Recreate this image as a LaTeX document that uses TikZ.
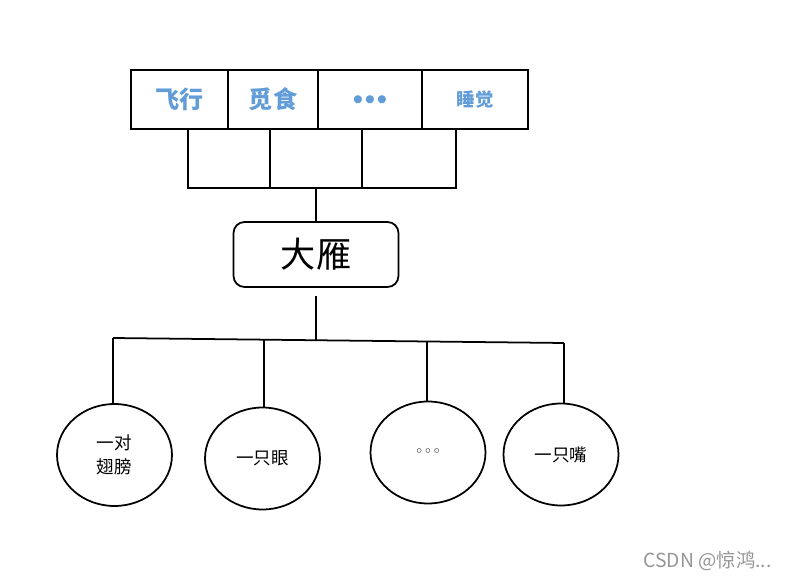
\documentclass[tikz,border=0pt]{standalone}
\usepackage{fontspec}
\setmainfont{Noto Sans CJK SC}
\newfontfamily\symfont{DejaVu Sans}
\usetikzlibrary{shapes.geometric, positioning}
\definecolor{actblue}{RGB}{98,157,216}
\definecolor{markgray}{RGB}{150,150,150}
\tikzset{
  cell/.style={rectangle, draw, line width=1pt, minimum height=1.18cm,
               inner sep=0pt, text=actblue,
               font=\bfseries\fontsize{13.7}{16}\selectfont},
  bird/.style={rectangle, draw, line width=1pt, rounded corners=0.22cm,
               minimum width=3.3cm, minimum height=1.3cm, inner sep=0pt,
               font=\fontsize{20}{24}\selectfont},
  part/.style={ellipse, draw, line width=1pt, minimum width=2.3cm,
               minimum height=2.04cm, inner sep=0pt, align=center,
               font=\fontsize{10}{14}\selectfont},
  link/.style={line width=1pt},
}

\begin{document}
\begin{tikzpicture}[x=0.02cm, y=-0.02cm]
  \useasboundingbox (0,0) rectangle (787,580);

  % what the goose does
  \node[cell, minimum width=1.94cm] (fly)    at (179.5,99.5) {飞行};
  \node[cell, minimum width=1.8cm]  (forage) at (273,99.5)   {觅食};
  \node[cell, minimum width=2.08cm, font=\symfont\fontsize{6}{7}\selectfont]
    (more) at (370,99.5) {●\kern1.6pt●\kern1.6pt●};
  \node[cell, minimum width=2.12cm, font=\bfseries\fontsize{10.5}{12}\selectfont]
    (sleep) at (475,99.5) {睡觉};

  \node[bird] (goose) at (316,254.5) {大雁};

  % what the goose has
  \node[part] (wings) at (114.5,455)   {一对\\翅膀};
  \node[part] (eye)   at (262.5,458.5) {一只眼};
  \node[part, font=\symfont\fontsize{8.5}{9}\selectfont] (etc) at (428,452.5) {◦◦◦};
  \node[part] (beak)  at (561,454.5)   {一只嘴};

  \node[text=markgray, font=\fontsize{11}{13}\selectfont] (mark) at (707.5,561)
    {CSDN @惊鸿...};

  \coordinate (t1) at (188,188);
  \coordinate (t2) at (270,188);
  \coordinate (t3) at (362,188);
  \coordinate (t4) at (456,188);
  \coordinate (b1) at (113,338);
  \coordinate (b2) at (264,340);
  \coordinate (b3) at (427,342);
  \coordinate (b4) at (564,343);

  \draw[link] (t1 |- fly.south) -- (t1) -- (t4) -- (t4 |- sleep.south);
  \draw[link] (t2 |- forage.south) -- (t2);
  \draw[link] (t3 |- more.south) -- (t3);
  \draw[link] (goose.north |- t1) -- (goose.north);

  \draw[link] ([yshift=-0.16cm]goose.south) -- (goose.south |- b2);
  \draw[link] (b1) -- (b4);
  \draw[link] (b1) -- (b1 |- wings.north);
  \draw[link] (b2) -- (b2 |- eye.north);
  \draw[link] (b3) -- (b3 |- etc.north);
  \draw[link] (b4) -- (b4 |- beak.north);
\end{tikzpicture}
\end{document}
